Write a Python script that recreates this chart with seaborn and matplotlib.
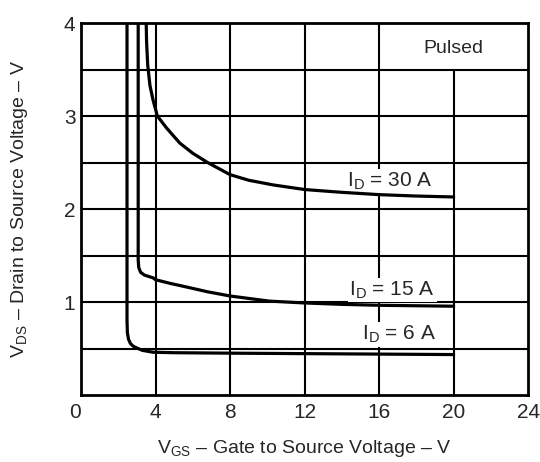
import matplotlib
matplotlib.use("Agg")
import matplotlib.pyplot as plt
import seaborn as sns
import pandas as pd

sns.set_theme(style="white")
plt.rcParams['font.family'] = ['Liberation Sans', 'DejaVu Sans']
plt.rcParams['mathtext.fontset'] = 'custom'
plt.rcParams['mathtext.rm'] = 'Liberation Sans'

# Data (VGS in V, VDS in V)
vgs_30 = [3.5, 3.52, 3.58, 3.7, 3.87, 4.1, 4.6, 5.3, 6.0, 6.8, 8.0, 9.0, 10.3, 12.0, 14.0, 16.0, 18.0, 20.0]
vds_30 = [4.0, 3.8, 3.55, 3.33, 3.17, 3.0, 2.87, 2.71, 2.6, 2.5, 2.37, 2.31, 2.26, 2.21, 2.18, 2.155, 2.14, 2.13]
vgs_15 = [3.07, 3.07, 3.1, 3.2, 3.4, 3.87, 4.0, 4.8, 5.7, 6.8, 8.0, 10.1, 12.0, 14.0, 16.0, 18.0, 20.0]
vds_15 = [4.0, 1.45, 1.37, 1.32, 1.29, 1.26, 1.24, 1.2, 1.16, 1.11, 1.065, 1.01, 0.99, 0.975, 0.965, 0.96, 0.955]
vgs_6 = [2.47, 2.47, 2.49, 2.55, 2.65, 2.8, 3.0, 3.3, 3.87, 5.0, 8.0, 12.0, 16.0, 20.0]
vds_6 = [4.0, 0.8, 0.67, 0.6, 0.555, 0.525, 0.505, 0.48, 0.46, 0.455, 0.45, 0.445, 0.44, 0.435]
curve_labels = ["I$_\\mathregular{D}$ = 30 A", "I$_\\mathregular{D}$ = 15 A", "I$_\\mathregular{D}$ = 6 A"]
x_ticks = [0, 4, 8, 12, 16, 20, 24]
y_ticks = [1, 2, 3, 4]

rows = []
for name, xs, ys in [("30", vgs_30, vds_30), ("15", vgs_15, vds_15), ("6", vgs_6, vds_6)]:
    for i, (x, y) in enumerate(zip(xs, ys)):
        rows.append({"id": name, "order": i, "vgs": x, "vds": y})
df = pd.DataFrame(rows)

fig = plt.figure(figsize=(5.4, 4.62), dpi=100)
ax = fig.add_axes([0.15, 0.145, 0.828, 0.805])

# grid
for yv in [0.5, 1.0, 1.5, 2.0, 2.5, 3.0, 3.5]:
    ax.axhline(yv, color='black', lw=1.5, zorder=1)
for xv in [4, 8, 12, 16]:
    ax.axvline(xv, color='black', lw=1.5, zorder=1)
ax.plot([20, 20], [0, 3.5], color='black', lw=1.5, zorder=1)

sns.lineplot(data=df, x="vgs", y="vds", units="id", estimator=None, sort=False,
             color='black', lw=2.3, ax=ax, zorder=3, legend=False)

ax.set_xlim(0, 24)
ax.set_ylim(0, 4)
ax.set_xticks(x_ticks)
ax.set_yticks(y_ticks)
ax.tick_params(axis='x', length=0, labelsize=15, pad=6)
ax.tick_params(axis='y', length=0, labelsize=15, pad=4)
ax.get_xticklabels()[0].set_horizontalalignment('right')
for s in ax.spines.values():
    s.set_linewidth(2.0)
    s.set_color('black')

bbox = dict(facecolor='white', edgecolor='none', pad=1.0)
ax.text(16.6, 2.30, curve_labels[0], fontsize=15, ha='center', va='center', bbox=bbox, zorder=2)
ax.text(16.7, 1.13, curve_labels[1], fontsize=15, ha='center', va='center', bbox=bbox, zorder=2)
ax.text(17.1, 0.65, curve_labels[2], fontsize=15, ha='center', va='center', bbox=bbox, zorder=2)
ax.text(20.0, 3.73, "Pulsed", fontsize=14, ha='center', va='center', zorder=2)

ax.set_xlabel("V$_\\mathregular{GS}$ – Gate to Source Voltage – V", fontsize=14)
ax.set_ylabel("V$_\\mathregular{DS}$ – Drain to Source Voltage – V", fontsize=14)
ax.xaxis.set_label_coords(0.5, -0.115)
ax.yaxis.set_label_coords(-0.115, 0.5)

fig.savefig("out.png", dpi=100)
